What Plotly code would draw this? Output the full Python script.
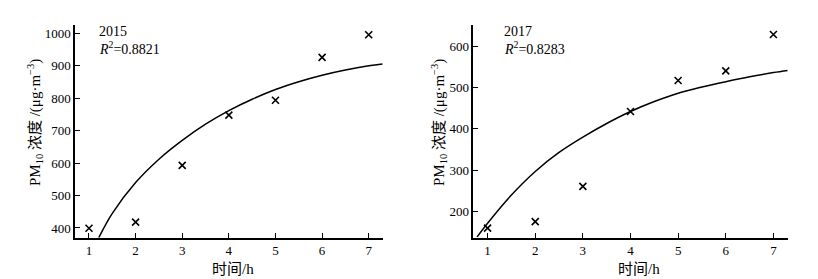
import plotly.graph_objects as go

# ---- data ----
hours = [1, 2, 3, 4, 5, 6, 7]
pm10_2015 = [399, 418, 593, 748, 794, 926, 996]
pm10_2017 = [160, 176, 261, 442, 517, 540, 628]

# fitted curves
fit_x_2015 = [1.21, 1.5, 2, 2.5, 3, 3.5, 4, 4.5, 5, 5.5, 6, 6.5, 7, 7.3]
fit_y_2015 = [370, 445, 540, 612, 670, 720, 762, 797, 827, 851, 871, 887, 900, 906]
fit_x_2017 = [0.78, 1, 1.5, 2, 2.5, 3, 3.5, 4, 4.5, 5, 5.5, 6, 6.5, 7, 7.3]
fit_y_2017 = [139, 172, 240, 297, 343, 380, 413, 442, 466, 486, 501, 514, 526, 536, 541]

labels_year = ["2015", "2017"]
labels_r2 = ["0.8821", "0.8283"]
y_ticks_2015 = [400, 500, 600, 700, 800, 900, 1000]
y_ticks_2017 = [200, 300, 400, 500, 600]
x_title = "时间/h"
y_title = "PM<sub>10</sub> 浓度 /(μg·m<sup>−3</sup>)"

FONT = "Liberation Serif, Times New Roman, Noto Sans CJK SC, serif"

fig = go.Figure()

marker = dict(symbol="x-thin", size=7, line=dict(width=1.6, color="black"), color="black")

fig.add_trace(go.Scatter(x=hours, y=pm10_2015, mode="markers", marker=marker,
                         xaxis="x", yaxis="y", showlegend=False))
fig.add_trace(go.Scatter(x=fit_x_2015, y=fit_y_2015, mode="lines",
                         line=dict(color="black", width=1.5, shape="spline"),
                         xaxis="x", yaxis="y", showlegend=False))
fig.add_trace(go.Scatter(x=hours, y=pm10_2017, mode="markers", marker=marker,
                         xaxis="x2", yaxis="y2", showlegend=False))
fig.add_trace(go.Scatter(x=fit_x_2017, y=fit_y_2017, mode="lines",
                         line=dict(color="black", width=1.5, shape="spline"),
                         xaxis="x2", yaxis="y2", showlegend=False))

W, H = 818, 279
L1, R1 = 75 / W, 382.7 / W
L2, R2 = 473.3 / W, 787.7 / W
B = 1 - 237.7 / H
T = 1 - 25 / H

axis_common = dict(showgrid=False, zeroline=False, showline=True, linecolor="black",
                   linewidth=1.5, ticks="inside", ticklen=5, tickwidth=1.2,
                   tickcolor="black", mirror=False,
                   tickfont=dict(family=FONT, size=13, color="black"))

fig.update_layout(
    width=W, height=H,
    margin=dict(l=0, r=0, t=0, b=0),
    paper_bgcolor="white", plot_bgcolor="white",
    font=dict(family=FONT, size=13, color="black"),
    xaxis=dict(domain=[L1, R1], range=[0.7, 7.3], tickvals=hours, anchor="y", **axis_common),
    yaxis=dict(domain=[B, T], range=[370, 1026], tickvals=y_ticks_2015, anchor="x", **axis_common),
    xaxis2=dict(domain=[L2, R2], range=[0.7, 7.3], tickvals=hours, anchor="y2", **axis_common),
    yaxis2=dict(domain=[B, T], range=[137, 651], tickvals=y_ticks_2017, anchor="x2", **axis_common),
)

ann = []
for i, (xr, yr) in enumerate([("x domain", "y domain"), ("x2 domain", "y2 domain")]):
    dx = 0.07 if i == 0 else 0.09
    ann.append(dict(x=dx, y=0.97, xref=xr, yref=yr, text=labels_year[i], showarrow=False,
                    xanchor="left", yanchor="middle", font=dict(family=FONT, size=14)))
    ann.append(dict(x=dx, y=0.89, xref=xr, yref=yr,
                    text="<i>R</i><sup>2</sup>=" + labels_r2[i], showarrow=False,
                    xanchor="left", yanchor="middle", font=dict(family=FONT, size=14)))
# x titles
for cx in (233, 639):
    ann.append(dict(x=cx / W, y=1 - 269 / H, xref="paper", yref="paper", text=x_title,
                    showarrow=False, xanchor="center", yanchor="middle",
                    font=dict(family=FONT, size=15)))
# y titles
for cx in (35, 439):
    ann.append(dict(x=cx / W, y=1 - 123 / H, xref="paper", yref="paper", text=y_title,
                    textangle=-90, showarrow=False, xanchor="center", yanchor="middle",
                    font=dict(family=FONT, size=15)))
fig.update_layout(annotations=ann)

fig.write_html("out.html", config={"displayModeBar": False},
               post_script="document.body.style.margin='0px';")
